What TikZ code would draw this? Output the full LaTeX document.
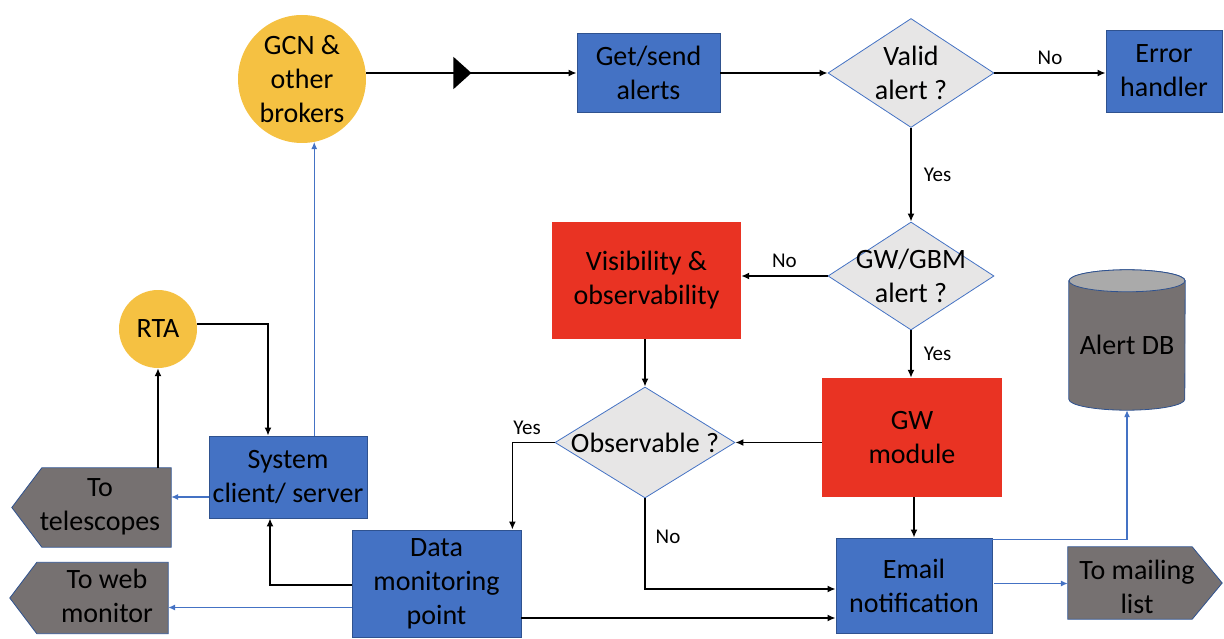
\documentclass[tikz,border=0pt]{standalone}
\usepackage{fontspec}
\setmainfont{Carlito}
\usetikzlibrary{shapes.geometric,arrows.meta,calc,decorations.markings,backgrounds}
\definecolor{bxblue}{RGB}{68,114,196}
\definecolor{bxedge}{RGB}{47,82,143}
\definecolor{bxred}{RGB}{233,51,35}
\definecolor{bxyel}{RGB}{245,193,66}
\definecolor{bxgray}{RGB}{118,113,113}
\definecolor{dialt}{RGB}{231,230,230}
\definecolor{dbtop}{RGB}{170,170,170}
\begin{document}
\begin{tikzpicture}[x=1pt,y=-1pt,
 txt/.style={font=\fontsize{28}{34}\selectfont, align=center},
 lbl/.style={font=\fontsize{21}{25}\selectfont, inner sep=0},
 bbox/.style={txt, draw=bxedge, line width=0.8pt, fill=bxblue, inner sep=0},
 rbox/.style={txt, fill=bxred, inner sep=0},
 circ/.style={txt, circle, fill=bxyel, inner sep=0},
 dia/.style={diamond, draw=bxblue, line width=0.8pt, fill=dialt, inner sep=0},
 blk/.style={line width=1.8pt, -{Latex[length=8pt,width=7pt]}},
 blu/.style={draw=bxblue, line width=1.1pt, -{Latex[length=7pt,width=6pt]}},
 tagbody/.style={fill=bxgray, draw=bxedge, line width=0.8pt},
 hold/.style={inner sep=0, draw=none},
]
\useasboundingbox (0,0) rectangle (1224,639);

% nodes
\node[circ, minimum size=128] (gcn) at (302,79) {GCN \&\\other\\brokers};
\node[bbox, minimum width=143, minimum height=79] (get) at (648.5,73) {Get/send\\alerts};
\node[dia, minimum width=166, minimum height=109, label={[txt]center:Valid\\alert ?}] (valid) at (911,73) {};
\node[bbox, minimum width=116, minimum height=82] (err) at (1164,71) {Error\\handler};
\node[dia, minimum width=166, minimum height=108, label={[txt]center:GW/GBM\\alert ?}] (gwgbm) at (911,276) {};
\node[rbox, minimum width=189, minimum height=117] (vis) at (646.5,280.5) {Visibility \&\\observability};
\node[rbox, minimum width=180, minimum height=119] (gwmod) at (912,437.5) {GW\\module};
\node[dia, minimum width=180, minimum height=111, label={[txt]center:Observable ?}] (obs) at (645,442.5) {};
\node[bbox, minimum width=169, minimum height=107] (dmp) at (436.5,583.5) {Data\\monitoring\\point};
\node[bbox, minimum width=156, minimum height=95] (email) at (914,585.5) {Email\\notification};
\node[bbox, minimum width=158, minimum height=82] (sys) at (288,477) {System\\client/ server};
\node[circ, minimum size=78] (rta) at (158,329) {RTA};

% tags
\node[hold, minimum width=159, minimum height=79] (tel) at (91.5,507.5) {};
\node[hold, minimum width=158, minimum height=71] (web) at (89,598) {};
\node[hold, minimum width=154, minimum height=72] (mail) at (1145,583) {};
\node[hold, minimum width=116, minimum height=140] (db) at (1127,340) {};
\filldraw[tagbody] (tel.north east) -- (tel.south east) -- ($(tel.south west)+(30,0)$) -- (tel.west) -- ($(tel.north west)+(30,0)$) -- cycle;
\filldraw[tagbody] (web.north east) -- (web.south east) -- ($(web.south west)+(27,0)$) -- (web.west) -- ($(web.north west)+(27,0)$) -- cycle;
\filldraw[tagbody] (mail.north west) -- ($(mail.north east)+(-30,0)$) -- (mail.east) -- ($(mail.south east)+(-30,0)$) -- (mail.south west) -- cycle;
\node[txt] (telt) at (100,507) {To\\telescopes};
\node[txt] (webt) at (107,596) {To web\\monitor};
\node[txt] (mailt) at (1137,587) {To mailing\\list};

% database cylinder
\filldraw[fill=bxgray, draw=bxedge, line width=0.8pt]
  ($(db.north west)+(0,11)$) -- ($(db.south west)+(0,-11)$)
  arc[start angle=180, end angle=360, x radius=58pt, y radius=11pt]
  -- ($(db.north east)+(0,11)$) arc[start angle=0, end angle=180, x radius=58pt, y radius=11pt] -- cycle;
\filldraw[fill=dbtop, draw=bxedge, line width=0.8pt] ($(db.north)+(0,11)$) ellipse[x radius=58pt, y radius=11pt];
\node[txt] (dbt) at (1127,345) {Alert DB};

% connectors
\draw[blk, postaction={decorate}, decoration={markings, mark=at position 0.5 with {\arrow{Triangle[length=18pt,width=32pt]}}}]
  (gcn.east |- get.west) -- (get.west);
\draw[blk] (get.east) -- (valid.west);
\draw[blk] (valid.east) -- node[lbl, above=7pt] (lno1) {No} (err.west |- valid.east);
\draw[blk] (valid.south) -- node[lbl, right=12pt, pos=0.5] (lyes1) {Yes} (gwgbm.north);
\draw[blk] (gwgbm.west) -- node[lbl, above=7pt] (lno2) {No} (vis.east |- gwgbm.west);
\draw[blk] (gwgbm.south) -- node[lbl, right=12pt] (lyes2) {Yes} (gwgbm.south |- gwmod.north);
\draw[blk] (vis.south -| obs.north) -- (obs.north);
\draw[blk] (gwmod.west |- obs.east) -- (obs.east);
\draw[blk] (obs.west) -| ($(dmp.north east)+(-9,0)$);
\node[lbl] (lyes3) at (527,428) {Yes};
\draw[blk] (obs.south) |- ($(email.west)+(0,3.5)$);
\node[lbl] (lno3) at (668,537) {No};
\draw[blk] (gwmod.south -| email.north) -- (email.north);
\draw[blk] ($(dmp.east)+(0,34.5)$) -- ($(email.west)+(0,32.5)$);
\draw[blk] ($(dmp.west)+(0,1.5)$) -| ($(sys.south)+(-18,0)$);
\draw[blu] ($(dmp.west)+(0,24)$) -- (web.east |- {$(dmp.west)+(0,24)$});
\draw[blu] ($(sys.west)+(0,20)$) -- (tel.east |- {$(sys.west)+(0,20)$});
\draw[blu] (sys.north -| gcn.-79) -- (gcn.-79);
\draw[blk] (rta.south |- tel.north) -- (rta.south);
\draw[blk] (rta.7) -| ($(sys.north)+(-20,0)$);
\draw[blu] ($(email.north east)+(0,2)$) -| (db.south);
\draw[blu] ($(email.east)+(2,-2)$) -- (mail.west |- {$(email.east)+(2,-2)$});
\end{tikzpicture}
\end{document}
